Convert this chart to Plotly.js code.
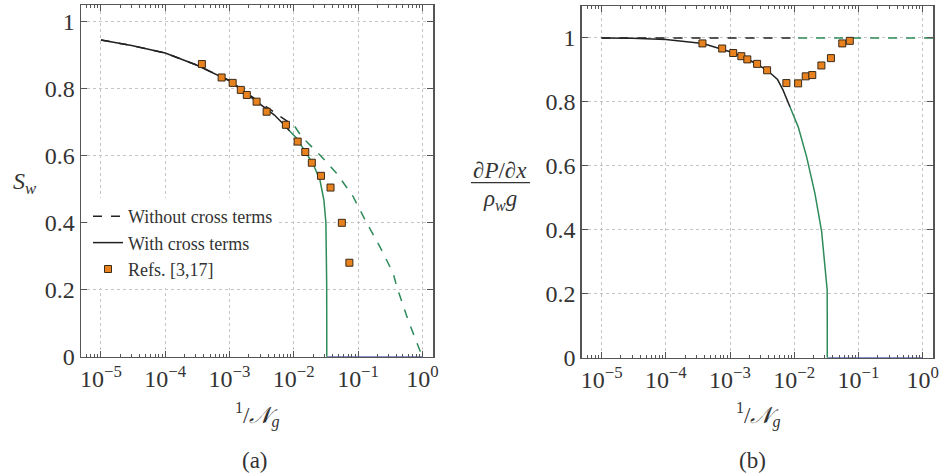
<!DOCTYPE html>
<html>
<head>
<meta charset="utf-8">
<script src="https://cdn.plot.ly/plotly-3.0.1.min.js"></script>
<style>
html,body{margin:0;padding:0;background:#fff}
#plot{width:945px;height:475px}
#plot text{font-family:"Liberation Serif","DejaVu Serif",serif !important;}
</style>
</head>
<body>
<div id="plot"></div>
<script>
// ---------- data ----------
// reference data points (Refs. [3,17]) — same 1/N_g values in both panels
const refX  = [3.72e-4, 7.55e-4, 1.12e-3, 1.50e-3, 1.86e-3, 2.64e-3, 3.78e-3, 7.55e-3, 0.0115, 0.0151, 0.0191, 0.0265, 0.0373, 0.0560, 0.0733];
const refSw = [0.872, 0.832, 0.816, 0.795, 0.780, 0.760, 0.730, 0.691, 0.641, 0.610, 0.578, 0.539, 0.504, 0.399, 0.280];
const refDp = [0.983, 0.967, 0.953, 0.943, 0.933, 0.919, 0.899, 0.859, 0.858, 0.880, 0.884, 0.914, 0.937, 0.983, 0.991];

// panel (a): with cross terms (solid)
const aWithBlackX = [1e-5, 3e-5, 1e-4, 3e-4, 1e-3, 2e-3, 3e-3, 5e-3, 7e-3, 0.0087];
const aWithBlackY = [0.944, 0.927, 0.905, 0.870, 0.822, 0.777, 0.752, 0.720, 0.692, 0.672];
const aWithGreenX = [0.0087, 0.011, 0.015, 0.020, 0.0255, 0.0294, 0.0316, 0.0322, 0.0325, 0.0326, 0.0326];
const aWithGreenY = [0.672, 0.652, 0.612, 0.574, 0.527, 0.467, 0.400, 0.330, 0.220, 0.100, 0.0];
// panel (a): without cross terms (dashed)
const aWithoutBlackX = [1e-5, 3e-5, 1e-4, 3e-4, 1e-3, 2e-3, 3e-3, 5e-3, 0.0104];
const aWithoutBlackY = [0.944, 0.927, 0.905, 0.870, 0.823, 0.780, 0.757, 0.728, 0.686];
const aWithoutGreenX = [0.0104, 0.0132, 0.0255, 0.0463, 0.084, 0.135, 0.218, 0.352, 0.40, 0.60, 0.91, 1.0];
const aWithoutGreenY = [0.686, 0.656, 0.601, 0.547, 0.477, 0.400, 0.328, 0.249, 0.209, 0.109, 0.020, 0.0];

// panel (b): with cross terms (solid)
const bWithBlackX = [1e-5, 3e-5, 1e-4, 3.8e-4, 1e-3, 2e-3, 3.8e-3, 5.5e-3, 6.7e-3, 8.6e-3];
const bWithBlackY = [1.0, 0.999, 0.995, 0.983, 0.957, 0.931, 0.899, 0.870, 0.837, 0.784];
const bWithGreenX = [8.6e-3, 0.01153, 0.0156, 0.021, 0.0267, 0.0301, 0.0326, 0.0327, 0.0327];
const bWithGreenY = [0.784, 0.722, 0.628, 0.514, 0.395, 0.295, 0.212, 0.100, 0.0];
// panel (b): without cross terms (dashed)
const bWithoutBlackX = [1e-5, 0.0115];
const bWithoutBlackY = [1.0, 1.0];
const bWithoutGreenX = [0.0115, 1.5];
const bWithoutGreenY = [1.0, 1.0];

// zero branch beyond the critical point
const zeroX = [0.0326, 1.0];
const zeroY = [0.0, 0.0];

// tick labels
const xTickVals = [1e-5, 1e-4, 1e-3, 1e-2, 1e-1, 1];
const xTickText = ['10<sup>−5</sup>', '10<sup>−4</sup>', '10<sup>−3</sup>', '10<sup>−2</sup>', '10<sup>−1</sup>', '10<sup>0</sup>'];
const yTickVals = [0, 0.2, 0.4, 0.6, 0.8, 1];
const yTickText = ['0', '0.2', '0.4', '0.6', '0.8', '1'];

// ---------- styling ----------
const BLACK = '#222222', GREEN = '#2e8b5a', BLUE = '#6070b8';
const ORANGE = '#e8821e', MEDGE = '#3a2a1a';
const FONT = 'Liberation Serif';

const minorVals = [];
for (let e = -6; e <= 0; e++) for (let d = 2; d <= 9; d++) minorVals.push(d * Math.pow(10, e));

function line(x, y, color, dash, xa, ya) {
  return {x: x, y: y, xaxis: xa, yaxis: ya, mode: 'lines', type: 'scatter',
          line: {color: color, width: 1.5, dash: dash}, showlegend: false};
}
const marker = {symbol: 'square', size: 7, color: ORANGE, line: {color: MEDGE, width: 1}};

const traces = [
  // panel a
  line(zeroX, zeroY, BLUE, 'solid', 'x', 'y'),
  line(aWithoutBlackX, aWithoutBlackY, BLACK, 'dash', 'x', 'y'),
  line(aWithoutGreenX, aWithoutGreenY, GREEN, 'dash', 'x', 'y'),
  line(aWithBlackX, aWithBlackY, BLACK, 'solid', 'x', 'y'),
  line(aWithGreenX, aWithGreenY, GREEN, 'solid', 'x', 'y'),
  {x: refX, y: refSw, xaxis: 'x', yaxis: 'y', mode: 'markers', type: 'scatter', marker: marker, showlegend: false},
  // panel b
  line(zeroX, zeroY, BLUE, 'solid', 'x2', 'y2'),
  line(bWithoutBlackX, bWithoutBlackY, BLACK, 'dash', 'x2', 'y2'),
  line(bWithoutGreenX, bWithoutGreenY, GREEN, 'dash', 'x2', 'y2'),
  line(bWithBlackX, bWithBlackY, BLACK, 'solid', 'x2', 'y2'),
  line(bWithGreenX, bWithGreenY, GREEN, 'solid', 'x2', 'y2'),
  {x: refX, y: refDp, xaxis: 'x2', yaxis: 'y2', mode: 'markers', type: 'scatter', marker: marker, showlegend: false},
  // legend entries
  {x: [null], y: [null], xaxis: 'x', yaxis: 'y', mode: 'lines', type: 'scatter', name: 'Without cross terms', line: {color: BLACK, width: 1.5, dash: 'dash'}},
  {x: [null], y: [null], xaxis: 'x', yaxis: 'y', mode: 'lines', type: 'scatter', name: 'With cross terms', line: {color: BLACK, width: 1.5}},
  {x: [null], y: [null], xaxis: 'x', yaxis: 'y', mode: 'markers', type: 'scatter', name: 'Refs. [3,17]', marker: marker}
];

function xaxis(domain, anchor) {
  return {domain: domain, anchor: anchor, type: 'log', range: [-5.31, 0.166],
    tickmode: 'array', tickvals: xTickVals, ticktext: xTickText,
    ticks: 'inside', ticklen: 6, tickwidth: 1, tickcolor: '#555',
    showline: true, linecolor: '#555', linewidth: 1.5, mirror: 'allticks',
    showgrid: true, gridcolor: '#c4c4c4', griddash: 'dot', gridwidth: 1, zeroline: false,
    minor: {tickmode: 'array', tickvals: minorVals, ticks: 'inside', ticklen: 3, tickcolor: '#555', showgrid: false},
    tickfont: {family: FONT, size: 24, color: '#333'}};
}
function yaxis(domain, anchor, top) {
  return {domain: domain, anchor: anchor, range: [0, top],
    tickmode: 'array', tickvals: yTickVals, ticktext: yTickText,
    ticks: 'inside', ticklen: 6, tickwidth: 1, tickcolor: '#555',
    showline: true, linecolor: '#555', linewidth: 1.5, mirror: 'allticks',
    showgrid: true, gridcolor: '#c4c4c4', griddash: 'dot', gridwidth: 1, zeroline: false,
    tickfont: {family: FONT, size: 24, color: '#333'}};
}

function ann(x, y, text, size) {
  return {xref: 'paper', yref: 'paper', x: x / 945, y: 1 - y / 475, xanchor: 'center', yanchor: 'middle',
          text: text, showarrow: false, font: {family: FONT, size: size || 23, color: '#333'}};
}
const layout = {
  width: 945, height: 475,
  margin: {l: 0, r: 0, t: 0, b: 0},
  font: {family: FONT},
  xaxis: xaxis([81/945, 433/945], 'y'),
  yaxis: yaxis([118.3/475, 470/475], 'x', 1.048),
  xaxis2: xaxis([581.7/945, 933.3/945], 'y2'),
  yaxis2: yaxis([117.3/475, 469/475], 'x2', 1.1),
  legend: {x: 88/945, y: 1 - 198/475, xanchor: 'left', yanchor: 'top', bgcolor: '#ffffff',
           font: {family: FONT, size: 18, color: '#333'}},
  annotations: [
    ann(25, 183, '<i>S</i><sub><i>w</i></sub>', 24),
    ann(257, 415, '<sup>1</sup>/<i>𝒩</i><sub><i>g</i></sub>'),
    ann(758, 415, '<sup>1</sup>/<i>𝒩</i><sub><i>g</i></sub>'),
    ann(255, 460, '(a)'),
    ann(752, 460, '(b)'),
    ann(500, 170, '∂<i>P</i>/∂<i>x</i>'),
    ann(500, 200, '<i>ρ<sub>w</sub>g</i>')
  ],
  shapes: [
    {type: 'line', xref: 'paper', yref: 'paper', x0: 471/945, x1: 530/945, y0: 1 - 182.7/475, y1: 1 - 182.7/475, line: {color: '#333', width: 1.2}}
  ]
};

Plotly.newPlot('plot', traces, layout, {displayModeBar: false, staticPlot: true});
</script>
</body>
</html>
